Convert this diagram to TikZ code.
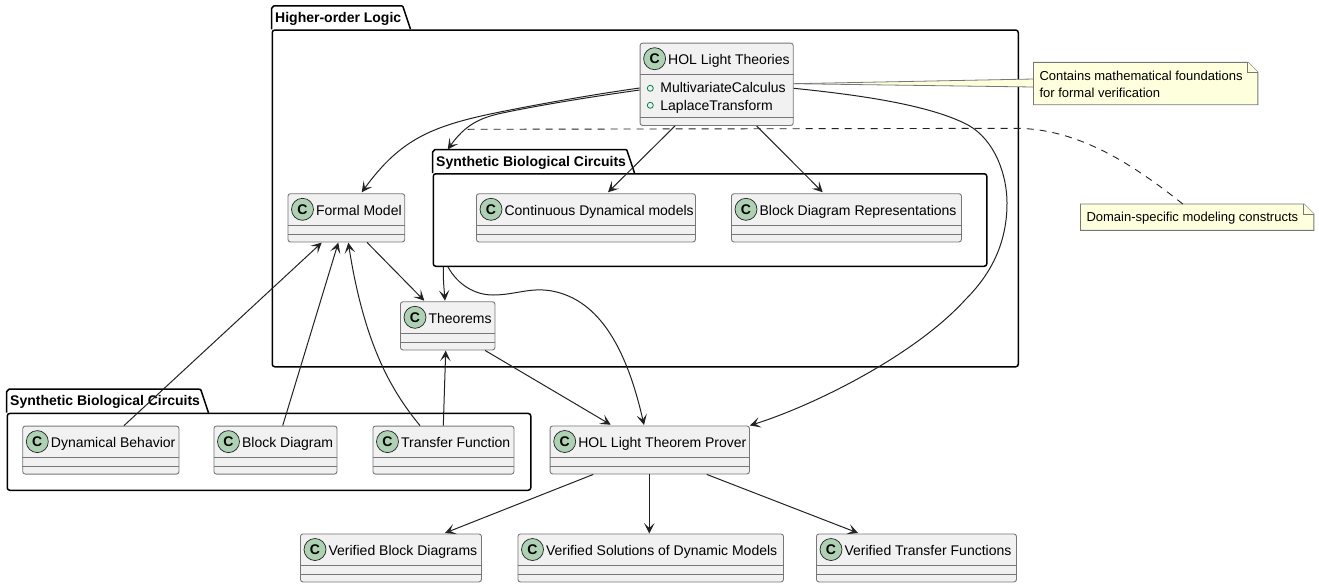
\documentclass[tikz,border=0pt]{standalone}
\usepackage{fontspec}
\setmainfont{Liberation Sans}
\usetikzlibrary{calc, arrows.meta}

\definecolor{boxfill}{HTML}{F1F1F1}
\definecolor{boxline}{HTML}{777777}
\definecolor{iconfill}{HTML}{ADD1B2}
\definecolor{notefill}{HTML}{FEFFDD}
\definecolor{linecol}{HTML}{222222}
\definecolor{membercol}{HTML}{038048}

\tikzset{
    classbox/.style={draw=boxline, fill=boxfill, line width=0.9pt, rounded corners=2.5pt, inner sep=0pt, anchor=north west},
    classicon/.style={circle, draw=linecol, fill=iconfill, line width=0.7pt, minimum size=22pt, inner sep=0pt, font=\fontsize{14}{14}\selectfont\bfseries},
    classname/.style={anchor=base west, inner sep=0pt, font=\fontsize{14}{16}\selectfont},
    pkgbody/.style={draw=black, line width=1.5pt, rounded corners=2.5pt, inner sep=0pt, anchor=north west},
    pkgtab/.style={draw=black, line width=1.5pt, line join=round},
    pkgname/.style={anchor=base west, inner sep=0pt, font=\fontsize{14}{16}\selectfont\bfseries},
    notetext/.style={anchor=north west, inner sep=0pt, font=\fontsize{13}{17.3}\selectfont, align=left},
    notebox/.style={draw=boxline, fill=notefill, line width=0.9pt},
    conn/.style={draw=linecol, line width=1pt, -{Stealth[length=10.5pt, width=10.5pt, inset=5pt]}},
    noteline/.style={draw=linecol, line width=0.9pt, dash pattern=on 7pt off 6pt},
}

% name, left, top, width, height, text
\newcommand{\classnode}[6]{
    \node[classbox, minimum width=#4pt, minimum height=#5pt] (#1) at (#2,#3) {};
    \draw[boxline, line width=0.9pt] ($(#1.north west)+(0,31.7)$) -- ($(#1.north east)+(0,31.7)$);
    \draw[boxline, line width=0.9pt] ($(#1.south west)+(0,-8)$) -- ($(#1.south east)+(0,-8)$);
    \node[classicon] (#1icon) at ($(#1.north west)+(15,16)$) {C};
    \node[classname] (#1name) at ($(#1.north west)+(28.4,21.7)$) {#6};
}

% name, left, top of tab, width, height of body, tab width, text
\newcommand{\packagenode}[7]{
    \node[pkgbody, minimum width=#4pt, minimum height=#5pt] (#1) at (#2,#3+23.5) {};
    \draw[pkgtab] (#1.north west) -- ($(#1.north west)+(0,-21)$) to[out=-90, in=180] ++(2.5,-2.5)
        -- ($(#1.north west)+(#6-10,-23.5)$) to[out=0, in=110] ++(2.5,-2.5+3.5)
        -- ($(#1.north west)+(#6,0)$);
    \node[pkgname] (#1name) at ($(#1.north west)+(3.5,-6.8)$) {#7};
}

% name, left, top, width, height, text
\newcommand{\notenode}[6]{
    \coordinate (#1nw) at (#2,#3);
    \node[inner sep=0pt, minimum width=#4pt, minimum height=#5pt, anchor=north west] (#1) at (#1nw) {};
    \draw[notebox] (#1.north west) -- ($(#1.north east)+(-10,0)$) -- ($(#1.north east)+(0,10)$)
        -- (#1.south east) -- (#1.south west) -- cycle;
    \draw[notebox] ($(#1.north east)+(-10,0)$) -- ($(#1.north east)+(-10,10)$) -- ($(#1.north east)+(0,10)$);
    \node[notetext] (#1text) at ($(#1.north west)+(5.8,8.3)$) {#6};
}

\begin{document}
\begin{tikzpicture}[x=1pt, y=-1pt]
    \useasboundingbox (0,0) rectangle (1319,587);

    % Draw the packages
    \packagenode{higher}{271.5}{5.8}{746}{336.7}{139}{Higher-order Logic}
    \packagenode{synthinner}{432.5}{149.5}{553.5}{92.5}{202}{Synthetic Biological Circuits}
    \packagenode{synthouter}{6.5}{389.2}{523.5}{76.8}{202}{Synthetic Biological Circuits}

    % Draw the classes
    \classnode{theories}{639.6}{42.7}{153.2}{82.3}{HOL Light Theories}
    \classnode{formal}{287.5}{193.3}{116.8}{48.2}{Formal Model}
    \classnode{continuous}{476}{193.3}{219}{48.2}{Continuous Dynamical models}
    \classnode{blockrep}{731}{193.3}{230}{48.2}{Block Diagram Representations}
    \classnode{theorems}{400}{301.3}{94.5}{48.2}{Theorems}
    \classnode{dynamical}{22.3}{425.6}{156.2}{48}{Dynamical Behavior}
    \classnode{blockdiag}{213.5}{425.6}{123}{48}{Block Diagram}
    \classnode{transfer}{372.5}{425.6}{141}{48}{Transfer Function}
    \classnode{prover}{549.7}{425.5}{199.3}{48}{HOL Light Theorem Prover}
    \classnode{verblock}{300}{533.5}{181}{48}{Verified Block Diagrams}
    \classnode{versol}{517.5}{533.5}{265.5}{48}{Verified Solutions of Dynamic Models}
    \classnode{vertrans}{816}{533.5}{200}{48}{Verified Transfer Functions}

    % The members of the theories class
    \draw[membercol, line width=0.8pt] ($(theories.north west)+(10.7,45.6)$) circle (3);
    \draw[membercol, line width=0.8pt] ($(theories.north west)+(10.7,62.6)$) circle (3);
    \node[classname] (calculus) at ($(theories.north west)+(20.6,50)$) {MultivariateCalculus};
    \node[classname] (laplace) at ($(theories.north west)+(20.6,67.3)$) {LaplaceTransform};

    % Draw the notes
    \fill[notefill] ($(theories.north east)+(0,41)$) -- (1033.5,79) -- (1033.5,87) -- cycle;
    \notenode{foundnote}{1033.5}{62.3}{224}{42}{Contains mathematical foundations\\for formal verification}
    \notenode{domainnote}{1080.5}{204}{233}{26}{Domain-specific modeling constructs}
    \draw[boxline, line width=0.8pt] ($(theories.north east)+(0,41)$) -- ($(foundnote.north west)+(0,16.7)$);
    \draw[boxline, line width=0.8pt] ($(theories.north east)+(0,41)$) -- ($(foundnote.north west)+(0,24.7)$);

    \draw[noteline] ($(domainnote.north west)+(102.3,0)$) .. controls (1135,166) and (1080,129) .. (1017,128.3) -- (466.7,129.3);

    % Draw the links inside the logic package
    \draw[conn] ($(theories.north west)+(0,45.3)$) .. controls (590,95) and (540,104) .. (500,112)
        .. controls (430,126) and (400,140) .. ($(formal.north west)+(74.2,-1)$);
    \draw[conn] ($(theories.north west)+(0,47.3)$) .. controls (590,97) and (540,105) .. (500,113.5)
        .. controls (480,118) and (465,125) .. ($(synthinner.north west)+(15.2,-23.5)$);
    \draw[conn] ($(theories.south west)+(35.4,0)$) -- ($(continuous.north west)+(132,-1)$);
    \draw[conn] ($(theories.south west)+(117,0)$) -- ($(blockrep.north west)+(91.7,-1)$);
    \draw[conn] ($(formal.south west)+(79.5,0)$) -- ($(theorems.north west)+(24.3,-0.6)$);
    \draw[conn] ($(synthinner.south west)+(10.8,0)$) .. controls (443,278) and (444,288) .. ($(theorems.north west)+(45,-0.6)$);

    % Draw the links to the prover
    \draw[conn] ($(synthinner.south west)+(15.5,0)$) .. controls (458,285) and (475,295) .. (493,295)
        .. controls (515,295) and (530,287) .. (552,291)
        .. controls (600,300) and (627,350) .. ($(prover.north west)+(94.3,-0.5)$);
    \draw[conn] ($(theories.north east)+(0,45.6)$) .. controls (860,95) and (930,105) .. (968,125)
        .. controls (995,140) and (1007,175) .. (1007,203)
        .. controls (1007,250) and (985,280) .. (965,300)
        .. controls (915,355) and (815,405) .. (prover.north east);
    \draw[conn] ($(theorems.south west)+(85,0)$) -- ($(prover.north west)+(61,-0.8)$);

    % Draw the links from the lower package
    \draw[conn] ($(dynamical.north west)+(101.7,0)$) -- ($(formal.south west)+(34.2,0.2)$);
    \draw[conn] ($(blockdiag.north west)+(69.2,0)$) -- ($(formal.south west)+(50.8,0.2)$);
    \draw[conn] ($(transfer.north west)+(47.5,0)$) .. controls (395,395) and (365,350) .. ($(formal.south west)+(60.8,0.2)$);
    \draw[conn] ($(transfer.north west)+(70.8,0)$) -- ($(theorems.south west)+(45.7,0.2)$);

    % Draw the results of the prover
    \draw[conn] ($(prover.south west)+(43.6,0)$) -- ($(verblock.north west)+(145,-0.5)$);
    \draw[conn] ($(prover.south west)+(99.6,0)$) -- ($(versol.north west)+(131.8,0)$);
    \draw[conn] ($(prover.south west)+(157,0)$) -- ($(vertrans.north west)+(42,-0.5)$);
\end{tikzpicture}
\end{document}
